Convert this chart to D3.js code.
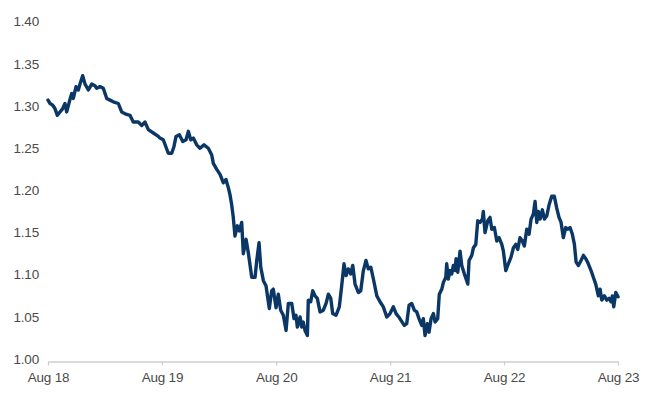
<!DOCTYPE html>
<html>
<head>
<meta charset="utf-8">
<script src="https://cdn.jsdelivr.net/npm/d3@7"></script>
<style>
  html, body { margin: 0; padding: 0; background: #fff; }
  svg { display: block; }
</style>
</head>
<body>
<svg id="chart" width="650" height="397"></svg>
<script>
// Time offsets in years from 1 Aug 2018
const yearsSinceStart = [
  0.000,0.018,0.041,0.061,0.082,0.105,0.129,0.149,0.164,0.187,0.208,0.222,0.246,0.266,0.281,0.304,0.325,0.354,0.383,0.412,
  0.427,0.456,0.485,0.515,0.544,0.573,0.617,0.646,0.690,0.719,0.748,0.792,0.822,0.851,0.880,0.924,0.968,0.982,1.011,1.055,
  1.085,1.105,1.123,1.152,1.182,1.211,1.231,1.252,1.275,1.304,1.333,1.368,1.406,1.436,1.450,1.480,1.509,1.538,1.561,1.582,
  1.596,1.611,1.625,1.640,1.661,1.678,1.699,1.713,1.737,1.757,1.787,1.816,1.831,1.851,1.866,1.889,1.912,1.941,1.962,1.976,
  2.000,2.020,2.041,2.064,2.088,2.108,2.138,2.158,2.175,2.187,2.211,2.225,2.239,2.254,2.275,2.283,2.304,2.322,2.342,2.362,
  2.386,2.415,2.439,2.459,2.480,2.497,2.526,2.555,2.576,2.596,2.614,2.634,2.655,2.673,2.693,2.722,2.743,2.766,2.789,2.809,
  2.831,2.854,2.884,2.912,2.941,2.971,3.000,3.029,3.053,3.082,3.096,3.125,3.146,3.167,3.190,3.213,3.234,3.254,3.278,3.292,
  3.307,3.327,3.342,3.360,3.380,3.395,3.418,3.432,3.454,3.468,3.489,3.497,3.511,3.526,3.541,3.555,3.570,3.579,3.594,3.614,
  3.629,3.652,3.682,3.693,3.717,3.731,3.752,3.769,3.789,3.810,3.818,3.833,3.857,3.877,3.892,3.915,3.936,3.956,3.980,3.994,
  4.015,4.032,4.061,4.082,4.103,4.120,4.140,4.161,4.178,4.199,4.219,4.237,4.257,4.272,4.287,4.301,4.316,4.336,4.354,4.375,
  4.395,4.418,4.441,4.462,4.482,4.500,4.520,4.541,4.559,4.579,4.599,4.617,4.632,4.652,4.675,4.696,4.717,4.739,4.763,4.783,
  4.804,4.827,4.842,4.857,4.880,4.901,4.921,4.939,4.950,4.962,4.980,5.000
];
const values = [
  1.308,1.304,1.302,1.298,1.290,1.294,1.298,1.304,1.294,1.306,1.316,1.310,1.324,1.320,1.327,1.337,1.327,1.320,1.327,1.325,
  1.322,1.324,1.322,1.310,1.308,1.306,1.304,1.294,1.291,1.290,1.282,1.282,1.278,1.282,1.273,1.269,1.265,1.263,1.261,1.245,
  1.245,1.253,1.265,1.267,1.259,1.261,1.271,1.261,1.263,1.255,1.251,1.255,1.251,1.243,1.233,1.226,1.220,1.210,1.214,1.204,
  1.196,1.184,1.169,1.147,1.159,1.153,1.163,1.126,1.143,1.127,1.098,1.098,1.118,1.139,1.110,1.094,1.088,1.061,1.082,1.084,
  1.062,1.078,1.059,1.053,1.035,1.067,1.067,1.049,1.053,1.039,1.051,1.039,1.045,1.035,1.029,1.071,1.069,1.082,1.076,1.073,
  1.057,1.059,1.067,1.078,1.073,1.055,1.053,1.063,1.088,1.114,1.100,1.108,1.102,1.112,1.090,1.080,1.082,1.106,1.118,1.108,
  1.110,1.096,1.076,1.069,1.063,1.051,1.055,1.063,1.055,1.050,1.047,1.041,1.043,1.065,1.067,1.059,1.057,1.049,1.041,1.049,
  1.029,1.043,1.033,1.049,1.055,1.045,1.049,1.078,1.084,1.092,1.098,1.114,1.096,1.106,1.102,1.112,1.106,1.120,1.104,1.129,
  1.112,1.102,1.090,1.118,1.124,1.133,1.137,1.165,1.163,1.167,1.176,1.151,1.165,1.169,1.155,1.157,1.141,1.145,1.137,1.129,
  1.106,1.112,1.122,1.133,1.137,1.131,1.145,1.141,1.135,1.155,1.149,1.167,1.173,1.188,1.163,1.176,1.167,1.178,1.167,1.171,
  1.184,1.194,1.194,1.180,1.169,1.163,1.145,1.157,1.155,1.157,1.149,1.137,1.116,1.112,1.118,1.124,1.120,1.114,1.106,1.098,
  1.090,1.076,1.084,1.071,1.076,1.071,1.073,1.069,1.076,1.063,1.080,1.075
];
const startDate = new Date(Date.UTC(2018, 7, 1));
const endDate = new Date(Date.UTC(2023, 7, 1));
const xTickDates = [2018, 2019, 2020, 2021, 2022, 2023].map(y => new Date(Date.UTC(y, 7, 1)));
const xTickLabels = ["Aug 18", "Aug 19", "Aug 20", "Aug 21", "Aug 22", "Aug 23"];
const yTicks = [1.00, 1.05, 1.10, 1.15, 1.20, 1.25, 1.30, 1.35, 1.40];

const msPerYear = 365.25 * 24 * 3600 * 1000;
const data = yearsSinceStart.map((t, i) => ({
  date: new Date(startDate.getTime() + t * msPerYear),
  value: values[i]
}));

const svg = d3.select("#chart");
const x = d3.scaleUtc().domain([startDate, endDate]).range([48, 618]);
const y = d3.scaleLinear().domain([1.0, 1.4]).range([360, 22.5]);

const font = "'Liberation Sans', Arial, sans-serif";

// X axis
const xAxis = d3.axisBottom(x)
  .tickValues(xTickDates)
  .tickFormat((d, i) => xTickLabels[i])
  .tickSize(4)
  .tickSizeOuter(0);
const gx = svg.append("g").attr("transform", "translate(0,361.5)").call(xAxis);
gx.select(".domain").attr("stroke", "#cfcfcf").attr("stroke-width", 1.3);
gx.selectAll(".tick line").attr("stroke", "#cfcfcf").attr("stroke-width", 1.3);
gx.selectAll(".tick text")
  .attr("fill", "#4a4a4a")
  .attr("font-family", font)
  .attr("font-size", "13.5px")
  .attr("letter-spacing", "-0.2px")
  .attr("dy", "1.05em")
  .attr("y", 6);

// Y axis labels (no line)
const yAxis = d3.axisLeft(y)
  .tickValues(yTicks)
  .tickFormat(d3.format(".2f"))
  .tickSize(0)
  .tickPadding(0);
const gy = svg.append("g").attr("transform", "translate(39,-1)").call(yAxis);
gy.select(".domain").remove();
gy.selectAll(".tick text")
  .attr("fill", "#4a4a4a")
  .attr("font-family", font)
  .attr("font-size", "13.5px")
  .attr("letter-spacing", "-0.2px");

// Line
const line = d3.line()
  .x(d => x(d.date))
  .y(d => y(d.value));
svg.append("path")
  .datum(data)
  .attr("fill", "none")
  .attr("stroke", "#0b3766")
  .attr("stroke-width", 3.4)
  .attr("stroke-linejoin", "round")
  .attr("stroke-linecap", "round")
  .attr("d", line);
</script>
</body>
</html>
